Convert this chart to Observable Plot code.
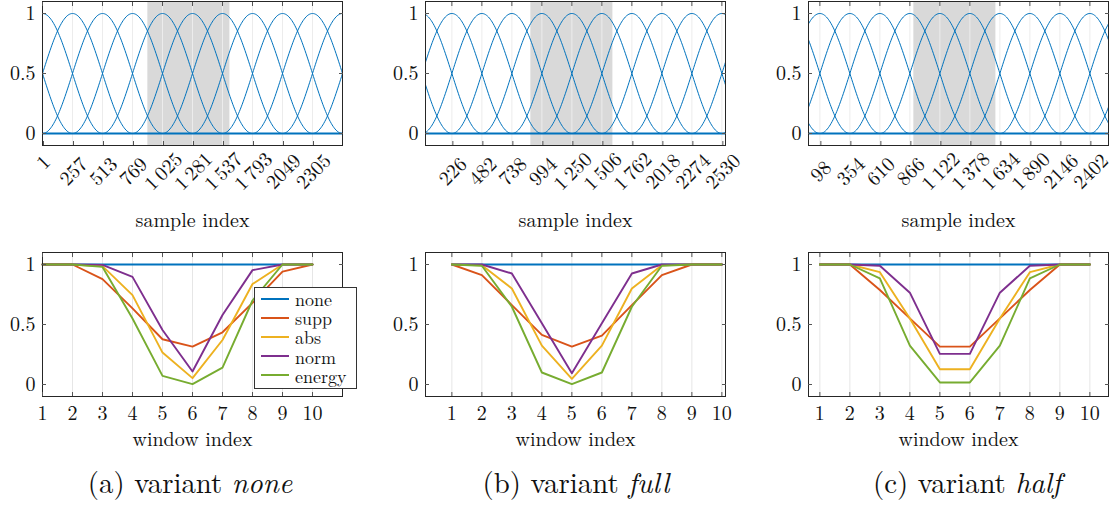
<!DOCTYPE html>
<html>
<head>
<meta charset="utf-8">
<script src="https://cdn.jsdelivr.net/npm/d3@7"></script>
<script src="https://cdn.jsdelivr.net/npm/@observablehq/plot@0.6"></script>
<style>
  html, body { margin: 0; padding: 0; background: #fff; }
  #root { position: relative; width: 1113px; height: 506px; overflow: hidden; font-family: 'Latin Modern Roman', 'Liberation Serif', serif; color: #111; }
  .panel { position: absolute; }
  .caption { position: absolute; font-size: 28.8px; white-space: nowrap; transform: translate(-50%, -50%); line-height: 1; }
  .legend { position: absolute; background: #fff; border: 1px solid #333; box-sizing: border-box; font-size: 18px; }
  .legend .row { position: absolute; left: 0; height: 19px; display: flex; align-items: center; }
  .legend .sw { width: 28px; height: 0; border-top: 2px solid; margin-left: 6px; margin-right: 6px; }
</style>
</head>
<body>
<div id="root"></div>
<script>
// ---------- data ----------
const variants = ["none", "full", "half"];
const captionLetters = ["(a)", "(b)", "(c)"];

const sampleDomain = [1, 2561];
const windowLength = 1024;
const hop = 256;
const signalRange = [900, 1600];

const sampleTicksA = [1, 257, 513, 769, 1025, 1281, 1537, 1793, 2049, 2305];
const sampleTicksB = [226, 482, 738, 994, 1250, 1506, 1762, 2018, 2274, 2530];
const sampleTicksC = [98, 354, 610, 866, 1122, 1378, 1634, 1890, 2146, 2402];

const sampleLabelsA = ["1", "257", "513", "769", "1\u2009025", "1\u2009281", "1\u2009537", "1\u2009793", "2049", "2305"];
const sampleLabelsB = ["226", "482", "738", "994", "1\u2009250", "1\u2009506", "1\u2009762", "2018", "2274", "2530"];
const sampleLabelsC = ["98", "354", "610", "866", "1\u2009122", "1\u2009378", "1\u2009634", "1\u2009890", "2146", "2402"];

const windowPeaksA = [-511, -255, 1, 257, 513, 769, 1025, 1281, 1537, 1793, 2049, 2305, 2561, 2817, 3073];
const windowPeaksB = [-542, -286, -30, 226, 482, 738, 994, 1250, 1506, 1762, 2018, 2274, 2530, 2786, 3042];
const windowPeaksC = [-414, -158, 98, 354, 610, 866, 1122, 1378, 1634, 1890, 2146, 2402, 2658, 2914];

const yTicks = [0, 0.5, 1];
const yLabels = ["0", "0.5", "1"];

const windowIndex = [1, 2, 3, 4, 5, 6, 7, 8, 9, 10];
const seriesNames = ["none", "supp", "abs", "norm", "energy"];
const seriesColors = ["#0072BD", "#D95319", "#EDB120", "#7E2F8E", "#77AC30"];

// variant none
const noneA   = [1, 1, 1, 1, 1, 1, 1, 1, 1, 1];
const suppA   = [1, 1, 0.878, 0.634, 0.377, 0.316, 0.435, 0.68, 0.94, 1];
const absA    = [1, 1, 0.986, 0.745, 0.266, 0.053, 0.371, 0.837, 1, 1];
const normA   = [1, 1, 0.997, 0.897, 0.454, 0.108, 0.579, 0.953, 1, 1];
const energyA = [1, 1, 0.98, 0.55, 0.072, 0.003, 0.141, 0.70, 1, 1];
// variant full
const noneB   = [1, 1, 1, 1, 1, 1, 1, 1, 1, 1];
const suppB   = [1, 0.911, 0.662, 0.413, 0.316, 0.407, 0.662, 0.911, 1, 1];
const absB    = [1, 0.994, 0.80, 0.324, 0.047, 0.324, 0.80, 0.994, 1, 1];
const normB   = [1, 1, 0.925, 0.51, 0.094, 0.51, 0.925, 1, 1, 1];
const energyB = [1, 0.99, 0.648, 0.10, 0.003, 0.10, 0.648, 0.99, 1, 1];
// variant half
const noneC   = [1, 1, 1, 1, 1, 1, 1, 1, 1, 1];
const suppC   = [1, 1, 0.787, 0.551, 0.316, 0.316, 0.551, 0.787, 1, 1];
const absC    = [1, 1, 0.936, 0.55, 0.127, 0.127, 0.55, 0.936, 1, 1];
const normC   = [1, 1, 0.99, 0.765, 0.255, 0.255, 0.765, 0.99, 1, 1];
const energyC = [1, 1, 0.884, 0.324, 0.017, 0.017, 0.324, 0.884, 1, 1];

// ---------- layout ----------
const root = document.getElementById("root");
const serif = "Latin Modern Roman, Liberation Serif, serif";
const frameLefts = [42, 425, 808];
const ML = 45, MR = 30, PW = 300, PH = 144;
const frameStroke = "#262626";
const tickStroke = "#555";
const baseStyle = { fontFamily: serif, fontSize: "20px", background: "transparent", overflow: "visible", color: "#111" };

function place(node, left, top) {
  node.classList.add("panel");
  node.style.left = left + "px";
  node.style.top = top + "px";
  root.appendChild(node);
}

function frameTicks(xTicks) {
  return [
    Plot.axisX(xTicks, { anchor: "top", tickSize: -4, stroke: tickStroke, tickFormat: () => "", label: null }),
    Plot.axisY(yTicks, { tickSize: -4, stroke: tickStroke, tickPadding: 11, tickFormat: (d) => yLabels[yTicks.indexOf(d)], label: null, fontFamily: serif }),
    Plot.axisY(yTicks, { anchor: "right", tickSize: -4, stroke: tickStroke, tickFormat: () => "", label: null })
  ];
}

function topPanel(ticks, labels, peaks) {
  const curves = peaks.flatMap(p =>
    d3.range(p - windowLength / 2, p + windowLength / 2 + 1, 8).map(s => ({
      peak: p, s, w: Math.cos(Math.PI * (s - p) / windowLength) ** 2
    }))
  );
  const fmt = (d) => labels[ticks.indexOf(d)];
  const shortTicks = ticks.filter((d, i) => labels[i].length === 1);
  const longTicks = ticks.filter((d, i) => labels[i].length > 1);
  const rot = { tickSize: -4, stroke: tickStroke, tickFormat: fmt, label: null, fontFamily: serif,
                tickRotate: -45, textAnchor: "middle", lineAnchor: "middle", dx: 1 };
  return Plot.plot({
    width: ML + PW + MR, height: 1 + PH + 90,
    marginLeft: ML, marginRight: MR, marginTop: 1, marginBottom: 90,
    style: baseStyle,
    x: { domain: sampleDomain },
    y: { domain: [-0.1, 1.1] },
    marks: [
      Plot.rect([signalRange], { x1: d => d[0], x2: d => d[1], fill: "#d9d9d9" }),
      Plot.gridX(ticks, { stroke: "#ececec", strokeOpacity: 1 }),
      Plot.line(curves, { x: "s", y: "w", z: "peak", stroke: "#0072BD", strokeWidth: 1, clip: true }),
      Plot.ruleY([0], { stroke: "#0072BD", strokeWidth: 2 }),
      Plot.frame({ stroke: frameStroke }),
      Plot.axisX(longTicks, { ...rot, tickPadding: 30 }),
      Plot.axisX(shortTicks, { ...rot, tickPadding: 21 }),
      ...frameTicks(ticks),
      Plot.text(["sample index"], { frameAnchor: "bottom", dy: 75, fontSize: 20, lineAnchor: "middle", fontFamily: serif })
    ]
  });
}

function bottomPanel(firstTick, series) {
  const domain = sampleDomain.map(s => 1 + (s - firstTick) / hop);
  const rows = seriesNames.flatMap((name, j) => windowIndex.map((k, i) => ({ name, k, v: series[j][i] })));
  return Plot.plot({
    width: ML + PW + MR, height: 12 + PH + 57,
    marginLeft: ML, marginRight: MR, marginTop: 12, marginBottom: 57,
    style: baseStyle,
    x: { domain },
    y: { domain: [-0.1, 1.1] },
    color: { domain: seriesNames, range: seriesColors },
    marks: [
      Plot.gridX(windowIndex, { stroke: "#e6e6e6", strokeOpacity: 1 }),
      Plot.line(rows, { x: "k", y: "v", z: "name", stroke: "name", strokeWidth: 1.9 }),
      Plot.frame({ stroke: frameStroke }),
      Plot.axisX(windowIndex, { tickSize: -4, stroke: tickStroke, tickFormat: d => String(d), label: null, fontFamily: serif, tickPadding: 13 }),
      ...frameTicks(windowIndex),
      Plot.text(["window index"], { frameAnchor: "bottom", dy: 43, fontSize: 20, lineAnchor: "middle", fontFamily: serif })
    ]
  });
}

const tickSets = [sampleTicksA, sampleTicksB, sampleTicksC];
const labelSets = [sampleLabelsA, sampleLabelsB, sampleLabelsC];
const peakSets = [windowPeaksA, windowPeaksB, windowPeaksC];
const seriesSets = [
  [noneA, suppA, absA, normA, energyA],
  [noneB, suppB, absB, normB, energyB],
  [noneC, suppC, absC, normC, energyC]
];

for (let c = 0; c < 3; c++) {
  place(topPanel(tickSets[c], labelSets[c], peakSets[c]), frameLefts[c] - ML, 0);
  place(bottomPanel(tickSets[c][0], seriesSets[c]), frameLefts[c] - ML, 240);
}

// legend (panel a, bottom)
const legend = document.createElement("div");
legend.className = "legend";
Object.assign(legend.style, { left: "254px", top: "287px", width: "103px", height: "102px" });
seriesNames.forEach((name, i) => {
  const row = document.createElement("div");
  row.className = "row";
  row.style.top = (1 + i * 19.2) + "px";
  const sw = document.createElement("div");
  sw.className = "sw";
  sw.style.borderTopColor = seriesColors[i];
  const t = document.createElement("span");
  t.textContent = name;
  row.appendChild(sw); row.appendChild(t);
  legend.appendChild(row);
});
root.appendChild(legend);

// captions
const captionCenters = [190, 576, 967];
variants.forEach((v, i) => {
  const cap = document.createElement("div");
  cap.className = "caption";
  cap.style.left = captionCenters[i] + "px";
  cap.style.top = "481px";
  cap.append(captionLetters[i] + " variant ");
  const em = document.createElement("i");
  em.textContent = v;
  cap.appendChild(em);
  root.appendChild(cap);
});
</script>
</body>
</html>
